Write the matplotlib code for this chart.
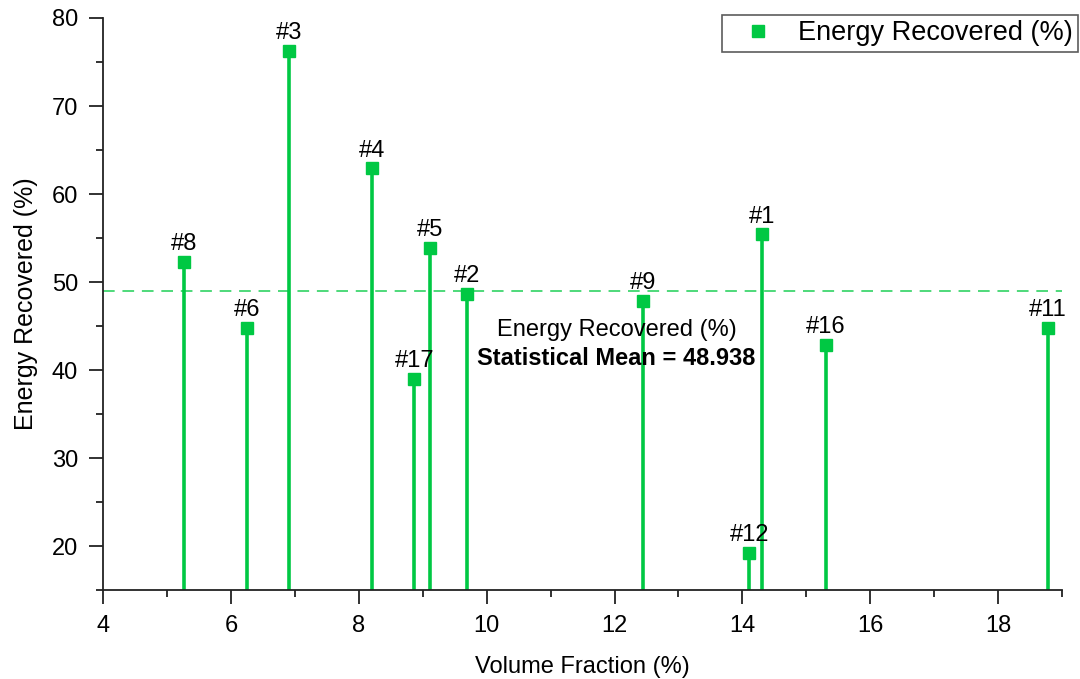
import matplotlib
matplotlib.use("Agg")
import matplotlib.pyplot as plt
from matplotlib.ticker import MultipleLocator
from matplotlib.lines import Line2D

plt.rcParams['font.family'] = ['Liberation Sans', 'DejaVu Sans']

# Sample data: volume fraction vs. energy recovered
sample_ids = ["#8", "#6", "#3", "#4", "#17", "#5", "#2", "#9", "#12", "#1", "#16", "#11"]
volume_fraction = [5.27, 6.25, 6.91, 8.20, 8.87, 9.12, 9.69, 12.44, 14.11, 14.31, 15.30, 18.78]
energy_recovered = [52.3, 44.8, 76.2, 62.9, 39.0, 53.9, 48.6, 47.9, 19.2, 55.4, 42.9, 44.8]
mean_value = 48.938

green = "#00c843"
mean_green = "#4ed97a"
y_floor = 15

fig = plt.figure(figsize=(10.8, 6.79), dpi=100)
ax = fig.add_axes([0.0954, 0.131, 0.888, 0.8425])

ax.vlines(volume_fraction, y_floor, energy_recovered, color=green, lw=2.6, zorder=2)
ax.plot(volume_fraction, energy_recovered, 's', color=green, ms=8.5, zorder=3,
        linestyle='none')

for sid, xv, yv in zip(sample_ids, volume_fraction, energy_recovered):
    ax.annotate(sid, (xv, yv), xytext=(0, 5), textcoords='offset points',
                ha='center', va='bottom', fontsize=17)

ax.axhline(mean_value, color=mean_green, lw=1.4, ls=(0, (6, 4)), zorder=1)

ax.text(12.03, 44.5, "Energy Recovered (%)", ha='center', va='center', fontsize=17)
ax.text(12.03, 41.3, "Statistical Mean = 48.938", ha='center', va='center',
        fontsize=17, fontweight='bold')

ax.set_xlim(4, 19)
ax.set_ylim(y_floor, 80)
ax.xaxis.set_major_locator(MultipleLocator(2))
ax.xaxis.set_minor_locator(MultipleLocator(1))
ax.yaxis.set_major_locator(MultipleLocator(10))
ax.yaxis.set_minor_locator(MultipleLocator(5))

for s in ('top', 'right'):
    ax.spines[s].set_visible(False)
for s in ('left', 'bottom'):
    ax.spines[s].set_linewidth(1.3)
    ax.spines[s].set_color('#222222')

ax.tick_params(which='major', direction='out', length=10, width=1.3, labelsize=17,
               colors='#222222', labelcolor='black', pad=8)
ax.tick_params(which='minor', direction='out', length=5, width=1.3, colors='#222222')

ax.set_xlabel("Volume Fraction (%)", fontsize=17, labelpad=14)
ax.set_ylabel("Energy Recovered (%)", fontsize=18, labelpad=10)

handle = Line2D([], [], marker='s', color=green, ms=8.5, linestyle='none')
leg = fig.legend([handle], ["Energy Recovered (%)"], loc='upper right',
                 bbox_to_anchor=(0.998, 0.978), fontsize=19.5, frameon=True,
                 fancybox=False, edgecolor='#333333', borderpad=0.2,
                 handletextpad=0.33, handlelength=2.27, borderaxespad=0)
leg.get_frame().set_linewidth(1.2)

fig.savefig("out.png", dpi=100)
